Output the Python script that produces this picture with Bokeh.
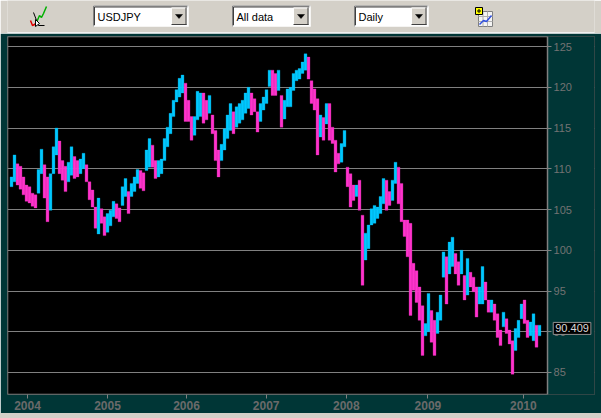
from bokeh.plotting import figure
from bokeh.layouts import column
from bokeh.models import Range1d, FixedTicker, Label, ColumnDataSource, Spacer
from bokeh.core.properties import value
from bokeh.embed import file_html
from bokeh.resources import INLINE

# ---------------- data (USDJPY, sampled bars: high / low) ----------------
high = [109.0, 111.7, 110.6, 110.3, 109.0, 108.0, 107.8, 107.0, 106.8, 109.9,
        112.4, 110.5, 109.0, 109.4, 112.7, 115.0, 113.4, 111.0, 110.3, 110.8,
        112.7, 111.5, 111.0, 111.2, 111.9, 110.5, 108.4, 107.4, 105.3, 106.4,
        105.1, 104.1, 104.5, 104.9, 106.0, 105.7, 105.2, 107.8, 108.8, 107.2,
        108.2, 109.0, 109.9, 109.8, 109.5, 112.3, 113.7, 112.9, 111.0, 111.0,
        111.2, 113.7, 115.1, 116.8, 118.4, 119.7, 121.1, 121.5, 120.5, 118.4,
        116.4, 116.4, 119.5, 119.3, 119.3, 118.4, 119.0, 116.6, 114.7, 112.3,
        113.0, 114.9, 116.6, 118.0, 117.0, 117.6, 118.0, 118.4, 119.3, 120.0,
        119.3, 118.6, 117.0, 118.0, 118.8, 119.7, 122.1, 122.1, 121.7, 122.1,
        119.0, 118.4, 119.8, 120.0, 121.7, 122.1, 122.3, 123.1, 124.1, 123.7,
        120.8, 119.8, 118.6, 116.6, 116.3, 118.0, 118.0, 115.1, 113.5, 111.9,
        113.1, 114.7, 110.2, 109.4, 108.0, 108.0, 108.6, 104.3, 102.1, 103.1,
        105.1, 105.5, 105.3, 106.6, 108.8, 108.6, 107.2, 108.6, 110.8, 110.2,
        108.2, 103.7, 103.7, 103.3, 98.4, 97.5, 95.5, 93.2, 91.0, 94.7,
        92.6, 91.4, 92.4, 94.5, 99.8, 99.2, 101.0, 101.6, 99.6, 98.6,
        100.0, 96.9, 99.0, 97.3, 96.7, 95.5, 95.5, 98.0, 96.1, 93.9,
        93.9, 93.4, 92.2, 90.2, 92.4, 91.6, 90.2, 88.9, 90.4, 91.4,
        93.4, 93.9, 91.4, 91.2, 92.2, 90.8, 90.8]
low = [107.8, 108.4, 108.0, 107.5, 106.8, 106.0, 105.8, 105.4, 105.2, 107.0,
       109.4, 106.4, 103.5, 104.9, 109.4, 111.7, 109.4, 108.6, 107.2, 108.4,
       109.2, 108.8, 109.0, 109.4, 110.0, 108.4, 106.2, 105.3, 102.7, 102.0,
       103.3, 101.8, 102.2, 103.0, 104.1, 103.9, 103.5, 105.5, 106.6, 104.5,
       106.6, 107.2, 108.2, 107.6, 107.3, 109.8, 110.2, 110.2, 108.8, 109.0,
       109.4, 111.0, 112.7, 114.3, 116.4, 118.2, 118.8, 119.3, 115.8, 115.8,
       113.5, 114.1, 116.0, 116.4, 115.6, 116.0, 116.8, 114.3, 111.0, 109.0,
       111.0, 112.3, 113.7, 114.7, 114.3, 115.1, 115.6, 116.0, 116.8, 117.4,
       116.6, 117.0, 114.5, 115.8, 117.2, 118.0, 120.1, 119.0, 119.0, 119.6,
       115.1, 116.1, 117.6, 117.6, 119.6, 120.8, 121.0, 121.7, 122.1, 121.0,
       118.0, 117.2, 111.7, 113.9, 113.5, 115.5, 113.5, 113.1, 109.6, 110.6,
       110.8, 112.7, 107.8, 105.3, 106.1, 106.6, 104.9, 95.7, 98.8, 100.2,
       103.1, 103.3, 103.9, 104.5, 105.7, 104.9, 105.5, 106.1, 108.2, 105.7,
       103.5, 101.7, 99.2, 92.0, 95.1, 93.6, 91.4, 87.1, 89.5, 90.0,
       88.7, 87.1, 89.8, 91.4, 96.7, 93.4, 97.1, 98.0, 97.1, 95.7,
       97.1, 93.9, 94.5, 95.5, 94.9, 91.8, 93.4, 93.4, 93.9, 92.4,
       92.4, 91.4, 89.3, 88.3, 90.6, 89.8, 88.5, 84.8, 87.7, 89.3,
       91.6, 91.0, 89.3, 89.5, 88.9, 88.1, 89.5]
last_price = 90.409
year_labels = ["2004", "2005", "2006", "2007", "2008", "2009", "2010"]
year_start_bar = [5.33, 32.0, 58.33, 84.9, 111.6, 138.8, 170.6]
price_ticks = [85, 90, 95, 100, 105, 110, 115, 120, 125]

UP = "#00c8ff"
DOWN = "#ff33cc"
TEAL = "#003636"
GRAY = "#d4d0c8"
FONT = value("Liberation Sans")

idx = list(range(len(high)))
mid = [(h + l) / 2 for h, l in zip(high, low)]
colors = [UP] + [UP if mid[i] >= mid[i - 1] else DOWN for i in range(1, len(mid))]
src = ColumnDataSource(dict(x=idx, top=high, bottom=low, color=colors))

BL, BR = 7, 7   # left / right borders shared by both panels

# ---------------- toolbar strip (reference pixel coords) ----------------
tb = figure(width=601, height=33, x_range=Range1d(BL, 601 - BR), y_range=Range1d(33, 0),
            output_backend="svg", toolbar_location=None, x_axis_type=None, y_axis_type=None,
            min_border_left=BL, min_border_right=BR, min_border_top=0, min_border_bottom=0,
            background_fill_color=GRAY, border_fill_color=GRAY)
tb.outline_line_color = None
tb.grid.visible = False

def combo(x0, x1, label):
    tb.quad(left=[x0], right=[x1], top=[5], bottom=[26], fill_color="white", line_color=None)
    tb.segment(x0=[x0, x0], y0=[5.5, 5.5], x1=[x1, x0], y1=[5.5, 26], line_color="#808080", line_width=1)
    tb.segment(x0=[x0 + 1, x0 + 1], y0=[6.5, 6.5], x1=[x1 - 1, x0 + 1], y1=[6.5, 25], line_color="#404040", line_width=1)
    tb.segment(x0=[x0, x1 - 0.5], y0=[25.5, 5], x1=[x1, x1 - 0.5], y1=[25.5, 26], line_color="white", line_width=1)
    b0, b1 = x1 - 17, x1 - 2
    tb.quad(left=[b0], right=[b1], top=[7], bottom=[24.5], fill_color=GRAY, line_color=None)
    tb.segment(x0=[b0, b0], y0=[7.5, 7.5], x1=[b1, b0], y1=[7.5, 24.5], line_color="white", line_width=1)
    tb.segment(x0=[b0, b1 - 0.5], y0=[24, 7], x1=[b1, b1 - 0.5], y1=[24, 24.5], line_color="#404040", line_width=1)
    cx = (b0 + b1) / 2
    tb.patch(x=[cx - 3.5, cx + 3.5, cx], y=[14, 14, 18], fill_color="black", line_color="black", line_width=0.5)
    tb.text(x=[x0 + 4], y=[16], text=[label], text_font=FONT, text_font_size="11px",
            text_baseline="middle", text_color="black")

combo(93, 188, "USDJPY")
combo(232, 310, "All data")
combo(354, 428, "Daily")

# left chart icon
tb.line(x=[30, 32, 34, 36], y=[20, 25, 24, 22], line_color="#e00000", line_width=1.5)
tb.line(x=[36, 39, 41, 43, 46], y=[22, 15, 17, 13, 6], line_color="#00b000", line_width=1.5)
tb.line(x=[33, 38, 44], y=[12, 25, 25], line_color="black", line_width=1)
tb.patch(x=[35, 35, 39], y=[19, 26, 23], fill_color="white", line_color="black", line_width=1)
# right add-chart icon
tb.quad(left=[478], right=[492], top=[11], bottom=[26], fill_color="#f4f4f4", line_color="#808080")
tb.segment(x0=[478, 478, 482.5, 487], y0=[16, 21, 11, 11], x1=[492, 492, 482.5, 487], y1=[16, 21, 26, 26],
           line_color="#b0b0b0", line_width=1)
tb.line(x=[479, 483, 486, 491], y=[24, 20, 21, 15], line_color="#3050e0", line_width=1.5)
tb.quad(left=[475], right=[482], top=[7], bottom=[14], fill_color="#ffff00", line_color="black")
tb.segment(x0=[476.5, 478.5], y0=[10.5, 8.5], x1=[480.5, 478.5], y1=[10.5, 12.5], line_color="black", line_width=1)
tb.segment(x0=[0], y0=[32], x1=[601], y1=[32], line_color="#f0f0f0", line_width=1)

# ---------------- price chart ----------------
# bar i sits at reference pixel 11 + 3*i ; frame spans reference pixels x 7..594, y 36..394
x_lo, x_hi = -1.333, 194.33
x_plot_end = 178.67            # right edge of the black price area (pixel 547)
y_lo, y_hi = 82.3, 126.23
p = figure(width=601, height=380, x_range=Range1d(x_lo, x_hi), y_range=Range1d(y_lo, y_hi),
           output_backend="svg", toolbar_location=None, y_axis_location="right",
           background_fill_color="black", border_fill_color=TEAL,
           min_border_left=BL, min_border_top=3, min_border_bottom=19, min_border_right=BR)
p.outline_line_color = None
p.xgrid.visible = False
p.ygrid.grid_line_color = "#808080"
p.ygrid.grid_line_width = 1

p.vbar(x="x", top="top", bottom="bottom", width=0.95, fill_color="color", line_color="color",
       line_width=0.3, source=src)

# teal price-scale panel to the right of the chart area, and the chart border
p.quad(left=[x_plot_end], right=[x_hi], bottom=[y_lo], top=[y_hi], fill_color=TEAL, line_color=None)
p.quad(left=[x_lo], right=[x_plot_end], bottom=[y_lo], top=[y_hi], fill_color=None,
       line_color="#808080", line_width=1.5)

p.yaxis.fixed_location = x_plot_end
p.yaxis.ticker = FixedTicker(ticks=price_ticks)
p.yaxis.minor_tick_line_color = None
p.yaxis.axis_line_color = None
p.yaxis.major_tick_line_color = "#808080"
p.yaxis.major_tick_in = 0
p.yaxis.major_tick_out = 4
p.yaxis.major_label_standoff = 2
p.yaxis.major_label_text_color = "#737373"
p.yaxis.major_label_text_font = "Liberation Sans"
p.yaxis.major_label_text_font_size = "11px"

p.xaxis.ticker = FixedTicker(ticks=year_start_bar)
p.xaxis.major_label_overrides = {t: s for t, s in zip(year_start_bar, year_labels)}
p.xaxis.minor_tick_line_color = None
p.xaxis.axis_line_color = None
p.xaxis.major_tick_line_color = "#808080"
p.xaxis.major_tick_in = 0
p.xaxis.major_tick_out = 4
p.xaxis.major_label_standoff = 2
p.xaxis.major_label_text_color = "#6a6a6a"
p.xaxis.major_label_text_font = "Liberation Sans"
p.xaxis.major_label_text_font_style = "bold"
p.xaxis.major_label_text_font_size = "12px"

p.add_layout(Label(x=x_plot_end + 1.9, y=last_price, x_units="data", y_units="data",
                   text=f"{last_price:.3f}", text_color="#d8d8d8", text_font="Liberation Sans",
                   text_font_size="11px", text_baseline="middle", background_fill_color="black",
                   border_line_color="#909090", padding=2))

bottom_strip = Spacer(width=601, height=5, styles={"background-color": GRAY})

layout = column(tb, p, bottom_strip, spacing=0)
open("out.html", "w").write(file_html(layout, INLINE))
